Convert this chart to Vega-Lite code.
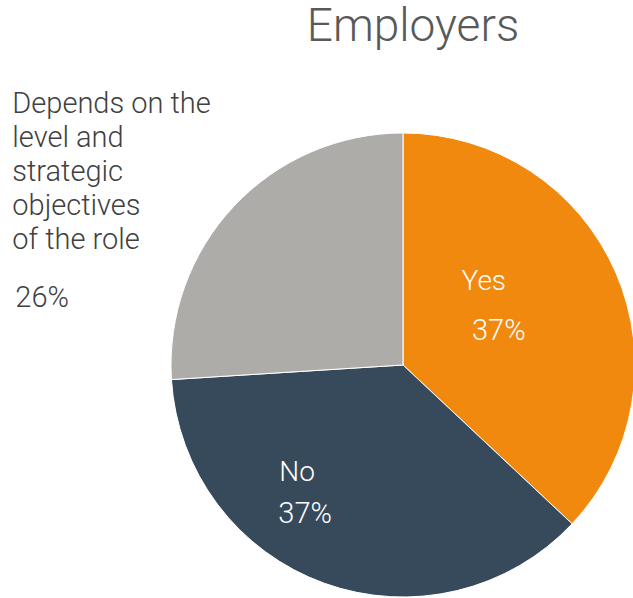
{
  "$schema": "https://vega.github.io/schema/vega-lite/v6.json",
  "width": 464,
  "height": 464,
  "autosize": {"type": "none"},
  "padding": {"left": 171, "top": 133, "right": 0, "bottom": 0},
  "background": "white",
  "config": {"view": {"stroke": null}, "font": "Roboto"},
  "title": {"text": "Employers", "fontSize": 46, "font": "Roboto", "fontWeight": 300, "color": "#595959", "anchor": "middle", "dx": 10, "offset": 3, "baseline": "alphabetic"},
  "data": {"values": [
    {"category": "Yes", "share": 0.37},
    {"category": "No", "share": 0.37},
    {"category": "Depends on the\nlevel and\nstrategic\nobjectives\nof the role", "share": 0.26}
  ]},
  "encoding": {
    "theta": {"field": "share", "type": "quantitative", "stack": true},
    "order": {"field": "category", "sort": "descending"},
    "detail": {"field": "category"}
  },
  "layer": [
    {
      "mark": {"type": "arc", "stroke": "white", "strokeWidth": 1},
      "encoding": {
        "color": {"field": "category", "type": "nominal", "legend": null,
          "scale": {"domain": ["Yes", "No", "Depends on the\nlevel and\nstrategic\nobjectives\nof the role"], "range": ["#F0890E", "#374A5B", "#ADACA9"]}}
      }
    },
    {
      "mark": {"type": "text", "radius": 100, "dx": -11, "dy": -43, "fontSize": 28, "fontWeight": 300, "fill": "white", "font": "Roboto"},
      "encoding": {"text": {"condition": {"test": "datum.category === 'Yes'", "field": "category"}, "value": ""}}
    },
    {
      "mark": {"type": "text", "radius": 100, "dx": 4, "dy": 6, "fontSize": 29, "fontWeight": 300, "fill": "white", "font": "Roboto"},
      "encoding": {"text": {"condition": {"test": "datum.category === 'Yes'", "field": "share", "type": "quantitative", "format": ".0%"}, "value": ""}}
    },
    {
      "mark": {"type": "text", "radius": 100, "dx": -72, "dy": 14, "fontSize": 28, "fontWeight": 300, "fill": "white", "font": "Roboto"},
      "encoding": {"text": {"condition": {"test": "datum.category === 'No'", "field": "category"}, "value": ""}}
    },
    {
      "mark": {"type": "text", "radius": 100, "dx": -64, "dy": 55, "fontSize": 29, "fontWeight": 300, "fill": "white", "font": "Roboto"},
      "encoding": {"text": {"condition": {"test": "datum.category === 'No'", "field": "share", "type": "quantitative", "format": ".0%"}, "value": ""}}
    },
    {
      "mark": {"type": "text", "radius": 300, "dx": -172, "dy": -47, "fontSize": 29, "fontWeight": 300, "fill": "#404040", "font": "Roboto", "align": "left", "baseline": "alphabetic", "lineBreak": "\n", "lineHeight": 34},
      "encoding": {"text": {"condition": {"test": "indexof(datum.category, 'Depends') === 0", "field": "category"}, "value": ""}}
    },
    {
      "mark": {"type": "text", "radius": 300, "dx": -169, "dy": 147, "fontSize": 29, "fontWeight": 300, "fill": "#404040", "font": "Roboto", "align": "left", "baseline": "alphabetic"},
      "encoding": {"text": {"condition": {"test": "indexof(datum.category, 'Depends') === 0", "field": "share", "type": "quantitative", "format": ".0%"}, "value": ""}}
    }
  ]
}
